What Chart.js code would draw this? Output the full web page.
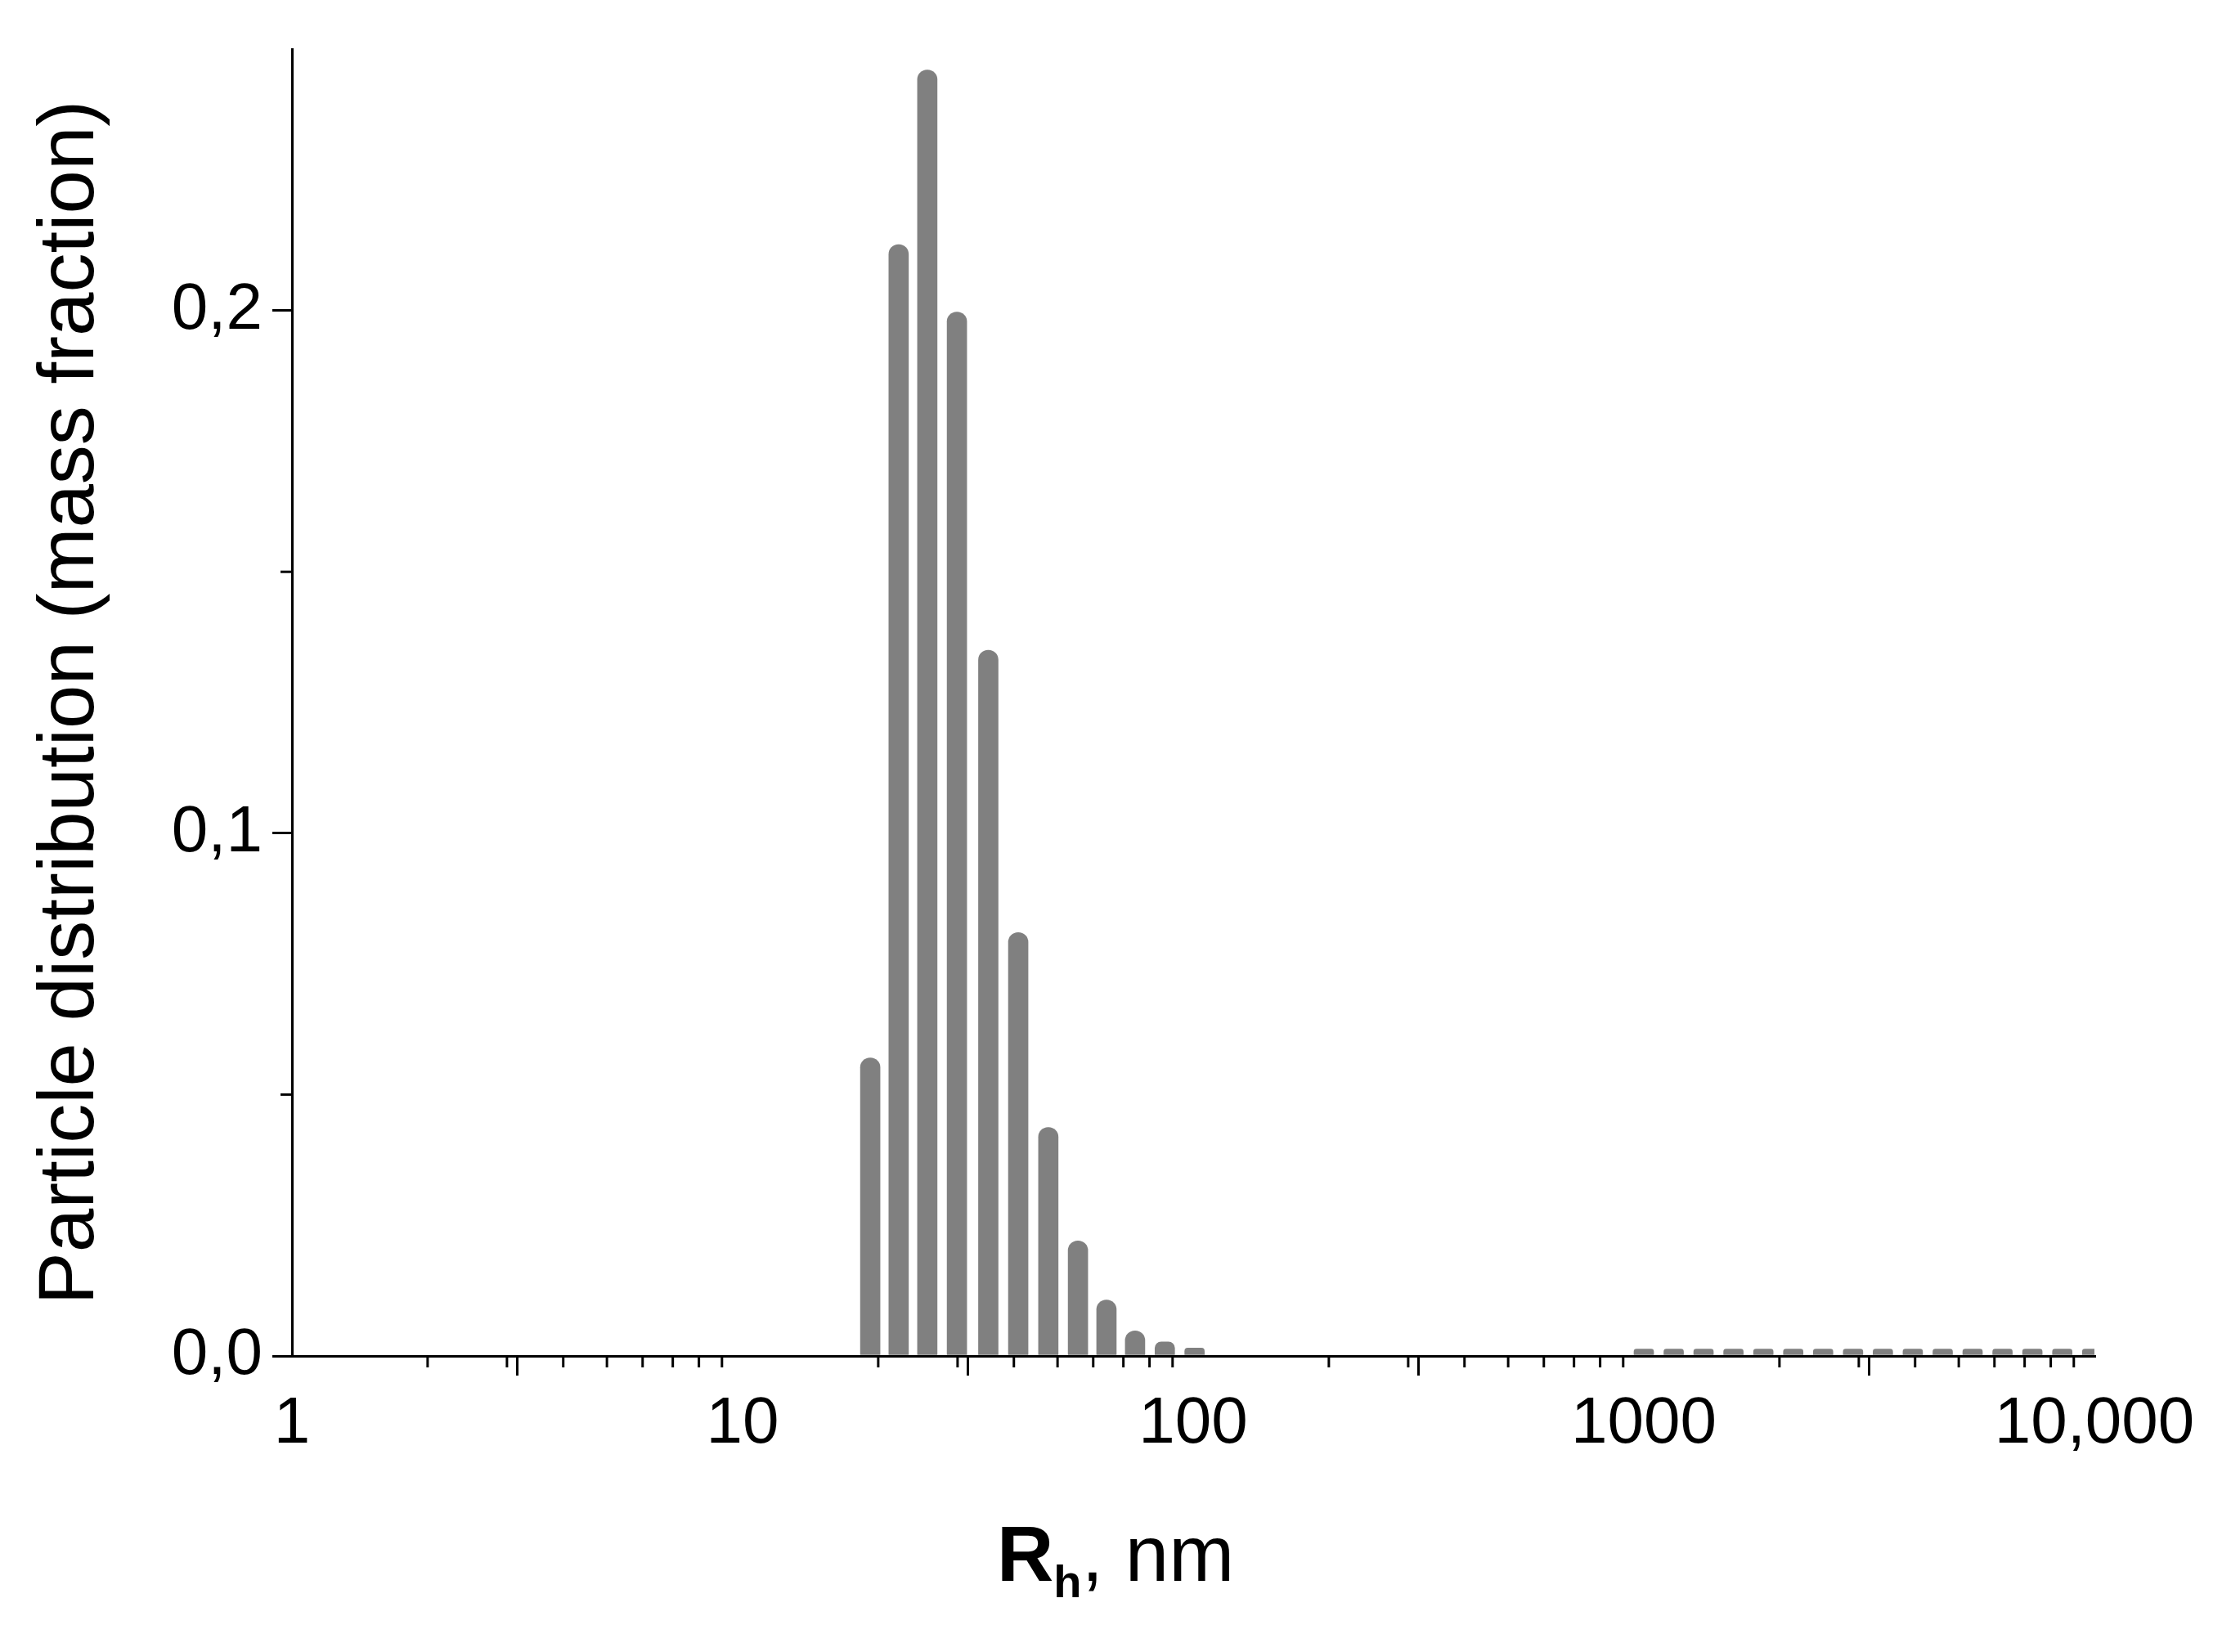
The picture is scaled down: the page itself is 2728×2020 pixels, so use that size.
<!DOCTYPE html>
<html><head><meta charset="utf-8">
<script src="https://cdn.jsdelivr.net/npm/chart.js@4"></script>
<style>
html,body{margin:0;padding:0;background:#fff;}
#wrap{position:relative;width:2728px;height:2020px;}
#xt{position:absolute;left:0;width:2728px;top:1845px;text-align:center;font-family:Arial,"Liberation Sans",sans-serif;font-size:96px;color:#000;}
</style></head><body>
<div id="wrap"><canvas id="c" width="2728" height="2020"></canvas>
<div id="xt"><b>R</b><sub style="font-size:56px;font-weight:bold">h</sub>, nm</div></div>
<script>
const radii = [19.2,22.2,25.7,29.9,35.1,40.9,47.7,55.5,64.2,74.3,86.5,100.7,
  1000,1165,1357,1581,1842,2146,2500,2913,3393,3953,4606,5366,6252,7283,8486,9886];
const fraction = [0.057,0.2126,0.246,0.1997,0.135,0.081,0.0437,0.022,0.0107,0.0048,0.0027,0.0015,
  0.0013,0.0013,0.0013,0.0013,0.0013,0.0013,0.0013,0.0013,0.0013,0.0013,0.0013,0.0013,0.0013,0.0013,0.0013,0.0013];
const xMajor = [1,10,100,1000,10000];
const xLabels = ['1','10','100','1000','10,000'];
const yMajor = [0,0.1,0.2];
const yLabels = ['0,0','0,1','0,2'];
const yMinor = [0.05,0.15];

const font = 'Arial, "Liberation Sans", sans-serif';
const minorTicks = {
  id:'minor',
  afterDraw(chart){
    const ctx=chart.ctx, xs=chart.scales.x, ys=chart.scales.y;
    ctx.save(); ctx.strokeStyle='#000'; ctx.lineWidth=3;
    const by=ys.bottom;
    for(let d=1; d<10000; d*=10) for(let k=2;k<10;k++){
      const p=xs.getPixelForValue(d*k);
      ctx.beginPath(); ctx.moveTo(p,by); ctx.lineTo(p,by+14); ctx.stroke();
    }
    yMinor.forEach(v=>{const p=ys.getPixelForValue(v);
      ctx.beginPath(); ctx.moveTo(xs.left,p); ctx.lineTo(xs.left-14,p); ctx.stroke();});
    ctx.restore();
  }
};
new Chart(document.getElementById('c'),{
  type:'bar',
  data:{datasets:[{data:radii.map((r,i)=>({x:r,y:fraction[i]})),backgroundColor:'#808080',
    barThickness:24,borderRadius:{topLeft:12,topRight:12},borderSkipped:'bottom'}]},
  options:{responsive:false,animation:false,
    layout:{padding:{top:22,right:167,bottom:0,left:0}},
    plugins:{legend:{display:false},tooltip:{enabled:false}},
    scales:{
      x:{type:'logarithmic',min:1,max:10000,offset:false,
        afterBuildTicks(s){s.ticks=xMajor.map(v=>({value:v}));},
        afterFit(s){s.height=362;},
        ticks:{autoSkip:false,maxRotation:0,font:{family:font,size:80},color:'#000',padding:12,
          callback:(v,i)=>xLabels[i]},
        grid:{display:true,drawOnChartArea:false,tickLength:24,color:'#000',lineWidth:3},
        border:{color:'#000',width:3}},
      y:{min:0,max:0.25,
        afterBuildTicks(s){s.ticks=yMajor.map(v=>({value:v}));},
        afterFit(s){s.width=357;},
        ticks:{font:{family:font,size:80},color:'#000',padding:12,callback:(v,i)=>yLabels[i]},
        grid:{drawOnChartArea:false,tickLength:24,color:'#000',lineWidth:3},
        border:{color:'#000',width:3},
        title:{display:true,text:'Particle distribution (mass fraction)',font:{family:font,size:96},color:'#000',padding:{top:30,bottom:0}}}
    }},
  plugins:[minorTicks]
});
</script></body></html>
